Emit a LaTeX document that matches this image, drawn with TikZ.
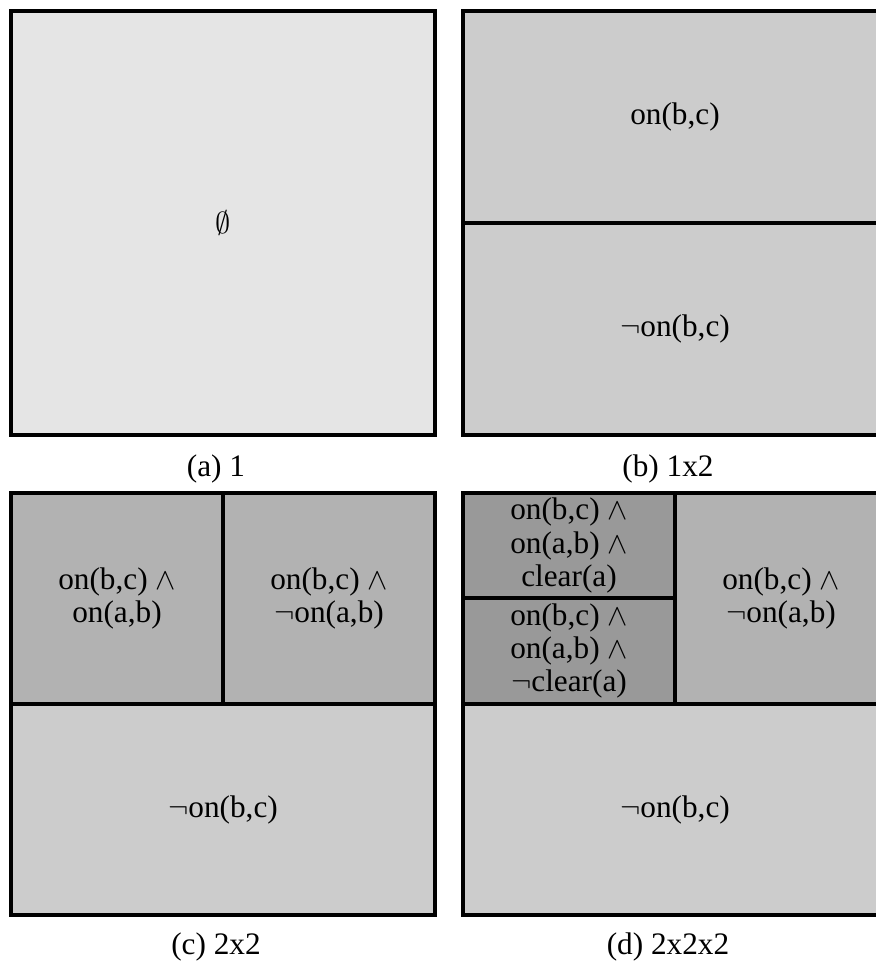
\documentclass[tikz,border=0pt]{standalone}
\usepackage{fontspec}
\setmainfont{Liberation Serif}

\tikzset{
  cell/.style={draw=black, line width=2pt},
  lbl/.style={align=center, font=\fontsize{17.8}{18.9}\selectfont},
  subcap/.style={font=\fontsize{17.8}{18.9}\selectfont},
}

\begin{document}
\begin{tikzpicture}[x=0.02cm, y=-0.02cm]
    \useasboundingbox (0,0) rectangle (876,964);

    % (a) one cell
    \draw [cell, fill=black!10] (11,11) rectangle (435,435);
    \node [lbl] (a-all) at (223,223) {$\emptyset$};
    \node [subcap] (a-cap) at (216,469) {(a) 1};

    % (b) split on on(b,c)
    \draw [cell, fill=black!20] (463,11) rectangle (887,223);
    \draw [cell, fill=black!20] (463,223) rectangle (887,435);
    \node [lbl] (b-on) at (675,117) {on(b,c)};
    \node [lbl] (b-noton) at (675,329) {$\neg$on(b,c)};
    \node [subcap] (b-cap) at (668,469) {(b) 1x2};

    % (c) split again on on(a,b)
    \draw [cell, fill=black!30] (11,493) rectangle (223,704);
    \draw [cell, fill=black!30] (223,493) rectangle (435,704);
    \draw [cell, fill=black!20] (11,704) rectangle (435,915);
    \node [lbl] (c-onon) at (117,598.5) {on(b,c) $\wedge$\\on(a,b)};
    \node [lbl] (c-onnot) at (329,598.5) {on(b,c) $\wedge$\\$\neg$on(a,b)};
    \node [lbl] (c-noton) at (223,809.5) {$\neg$on(b,c)};
    \node [subcap] (c-cap) at (216,947) {(c) 2x2};

    % (d) split again on clear(a)
    \draw [cell, fill=black!40] (463,493) rectangle (675,598);
    \draw [cell, fill=black!40] (463,598) rectangle (675,704);
    \draw [cell, fill=black!30] (675,493) rectangle (887,704);
    \draw [cell, fill=black!20] (463,704) rectangle (887,915);
    \node [lbl] (d-clear) at (569,545.5) {on(b,c) $\wedge$\\on(a,b) $\wedge$\\clear(a)};
    \node [lbl] (d-notclear) at (569,651) {on(b,c) $\wedge$\\on(a,b) $\wedge$\\$\neg$clear(a)};
    \node [lbl] (d-onnot) at (781,598.5) {on(b,c) $\wedge$\\$\neg$on(a,b)};
    \node [lbl] (d-noton) at (675,809.5) {$\neg$on(b,c)};
    \node [subcap] (d-cap) at (668,947) {(d) 2x2x2};
\end{tikzpicture}
\end{document}
